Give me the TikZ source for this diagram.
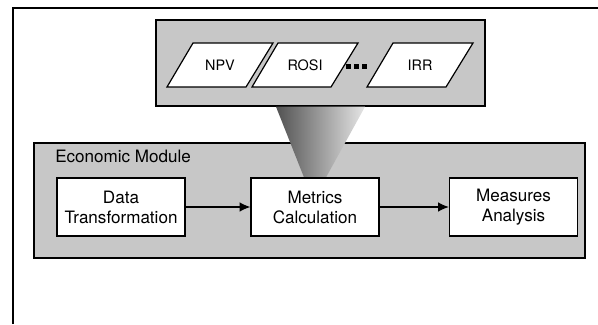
\documentclass[tikz,border=0pt]{standalone}
\usepackage{fontspec}
\setmainfont{TeX Gyre Heros}
\usepackage{xcolor}
\usepackage{tikz}
\usetikzlibrary{arrows.meta,calc,positioning}
\definecolor{modgray}{gray}{0.78}

\begin{document}
\begin{tikzpicture}[x=0.75pt,y=-0.75pt,
    module/.style={draw, fill=modgray, line width=1.1pt, inner sep=0pt},
    block/.style={draw, fill=white, line width=0.9pt, align=center,
        minimum width=96pt, minimum height=43.5pt,
        font=\fontsize{12.8}{15}\selectfont},
    metric/.style={draw, fill=white, line width=0.9pt, line join=miter},
    metriclabel/.style={inner sep=0pt, font=\fontsize{10.8}{12}\selectfont},
    flow/.style={-{Latex[length=8pt,width=7pt]}, line width=0.8pt}]
        \useasboundingbox (0,0) rectangle (598,324);

        % Draw the outer frame
        \draw[line width=1.1pt] (13,324) -- (13,8) -- (598,8);

        % Draw the box of metrics
        \node[module, minimum width=246.75pt, minimum height=64.5pt] (metricset) at (320.5,63) {};
        \foreach \name/\x/\label in {npv/220/NPV, rosi/305/ROSI, irr/420/IRR} {
            \draw[metric] (\x-53,87) -- (\x+26,87) -- (\x+53,43) -- (\x-27,43) -- cycle;
            \node[metriclabel] (\name) at (\x,65.5) {\label};
        }
        \foreach \x in {348,356,364}
            \fill (\x-2.5,64.5) rectangle (\x+2.5,69.5);

        % Draw the economic module
        \node[module, minimum width=413.25pt, minimum height=86.25pt] (econ) at (309.5,200.5) {};
        \node[anchor=base west, inner sep=0pt, font=\fontsize{12.8}{15}\selectfont] (econlabel) at (55,162) {Economic Module};

        % Label the steps
        \node[block] (transform) at (121,207) {Data\\Transformation};
        \node[block] (calc) at (315,207) {Metrics\\Calculation};
        \node[block] (analysis) at (513.5,207) {Measures\\Analysis};

        % Draw the funnel into the calculation
        \shade[left color=black!68, right color=black!10]
            ($(metricset.south)+(-44.5,0)$) -- ($(metricset.south)+(44.5,0)$)
            -- ($(calc.north)+(11,0)$) -- ($(calc.north)+(-11,0)$) -- cycle;
        \draw[line width=0.9pt] (calc.north west) -- (calc.north east);

        % Draw the flow
        \draw[flow] (transform) -- (calc);
        \draw[flow] (calc) -- (analysis);

    \end{tikzpicture}
\end{document}
